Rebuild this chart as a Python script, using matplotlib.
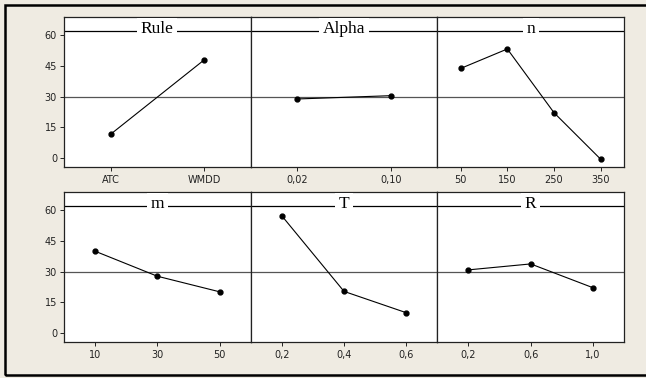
import matplotlib
matplotlib.use('Agg')
import matplotlib.pyplot as plt
from matplotlib.patches import Rectangle

# main effects for means, one panel per factor
factors = ['Rule', 'Alpha', 'n', 'm', 'T', 'R']
levels = {
    'Rule': ['ATC', 'WMDD'],
    'Alpha': ['0,02', '0,10'],
    'n': ['50', '150', '250', '350'],
    'm': ['10', '30', '50'],
    'T': ['0,2', '0,4', '0,6'],
    'R': ['0,2', '0,6', '1,0'],
}
means = {
    'Rule': [11.6, 47.8],
    'Alpha': [28.8, 30.4],
    'n': [43.7, 53.2, 22.1, -0.6],
    'm': [39.9, 27.7, 20.1],
    'T': [57.2, 20.3, 9.9],
    'R': [30.8, 33.7, 22.1],
}
grand_mean = 29.6
yticks = [0, 15, 30, 45, 60]

W, H = 646, 378
fig = plt.figure(figsize=(W / 100, H / 100), dpi=100)
fig.patch.set_facecolor('#efebe2')

# outer frame
fig.add_artist(Rectangle((5 / W, 3 / H), 1.0, 1 - 8 / H, transform=fig.transFigure,
                         fill=False, edgecolor='black', linewidth=1.8))

left, pw, ph = 64 / W, 186.67 / W, 150 / H
rows_bottom = [1 - 167 / H, 1 - 342 / H]

for i, f in enumerate(factors):
    r, c = divmod(i, 3)
    ax = fig.add_axes([left + c * pw, rows_bottom[r], pw, ph])
    ax.set_facecolor('white')
    vals = means[f]
    x = list(range(len(vals)))
    ax.axhline(grand_mean, color='#555555', linewidth=0.9, zorder=1)
    ax.axhline(62, color='black', linewidth=0.9, zorder=1)
    ax.plot(x, vals, color='black', linewidth=0.8, marker='o', markersize=3.5, zorder=3)
    ax.text(0.5, (61 + 4.4) / 73.2, f, transform=ax.transAxes, ha='center', va='baseline',
            family='Liberation Serif', fontsize=12.5,
            bbox=dict(facecolor='white', edgecolor='none', pad=2.5), zorder=4)
    ax.set_xlim(-0.5, len(vals) - 0.5)
    ax.set_ylim(-4.4, 68.8)
    ax.set_xticks(x)
    ax.set_xticklabels(levels[f], fontsize=7, family='DejaVu Sans')
    ax.tick_params(axis='x', direction='out', length=3, width=0.7, pad=3, colors='#222222')
    if c == 0:
        ax.set_yticks(yticks)
        ax.set_yticklabels([str(v) for v in yticks], fontsize=7)
        ax.tick_params(axis='y', direction='out', length=3, width=0.7, pad=2, colors='#222222')
    else:
        ax.set_yticks([])
    for s in ax.spines.values():
        s.set_linewidth(0.9)
        s.set_color('#222222')

fig.savefig('out.png', dpi=100, facecolor=fig.get_facecolor())
